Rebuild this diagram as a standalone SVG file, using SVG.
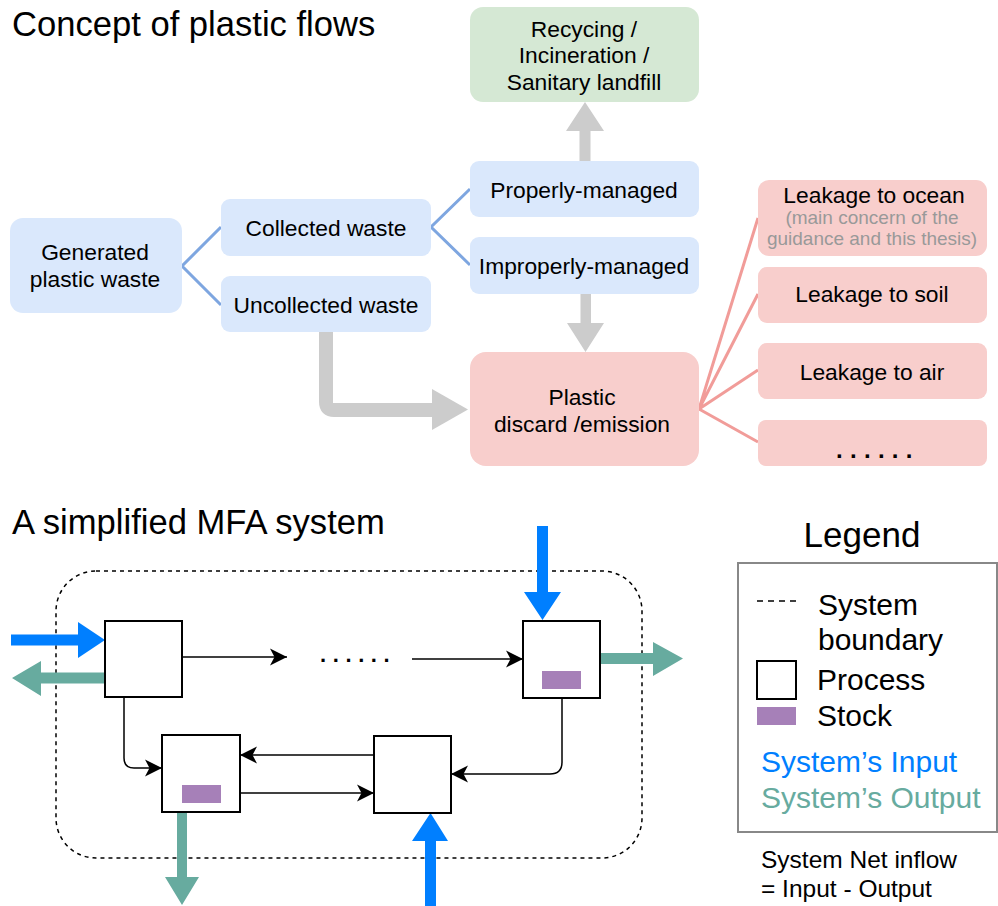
<svg xmlns="http://www.w3.org/2000/svg" width="998" height="906" viewBox="0 0 998 906">
<style>
text{font-family:"Liberation Sans",Arial,Helvetica,sans-serif;fill:#000}
.title{font-size:34.6px}
.lbl{font-size:22.8px;text-anchor:middle}
.sub{font-size:19px;text-anchor:middle;fill:#999999}
.blue{fill:#dae8fc}
.green{fill:#d5e8d4}
.pink{fill:#f8cecc}
.bl{stroke:#7ea6e0;stroke-width:3;fill:none}
.pl{stroke:#f19c99;stroke-width:3;fill:none}
.gray{fill:#cccccc}
.proc{fill:#fff;stroke:#000;stroke-width:2}
.stock{fill:#a680b8}
.conn{stroke:#000;stroke-width:1.5;fill:none}
.in{fill:#007fff}
.out{fill:#67ab9f}
.leg{font-size:30px}
</style>
<defs>
<marker id="ah" viewBox="0 0 18 18" refX="17.5" refY="9" markerWidth="18" markerHeight="18" markerUnits="userSpaceOnUse" orient="auto">
<path d="M0.5,0.5 L17.5,9 L0.5,17.5 L5,9 Z" fill="#000"/>
</marker>
</defs>
<rect width="998" height="906" fill="#fff"/>

<text class="title" x="12" y="36">Concept of plastic flows</text>
<text class="title" x="12" y="534">A simplified MFA system</text>

<!-- top connectors -->
<g id="connectors-top">
<path class="bl" d="M221,227 L182,266 L221,305"/>
<path class="bl" d="M470,189 L431,227 L470,265"/>
<path class="pl" d="M758,218 L699,409 L758,294 M699,409 L758,370 M699,409 L758,442"/>
<path class="gray" d="M579.5,161 L579.5,131 L566,131 L585,102 L604,131 L590.5,131 L590.5,161 Z"/>
<path class="gray" d="M580.5,294 L580.5,323 L567,323 L585.5,352 L604,323 L591,323 L591,294 Z"/>
<path d="M326,332 L326,402 Q326,410 334,410 L433,410" stroke="#cccccc" stroke-width="14" fill="none"/>
<path class="gray" d="M432,389 L468,409.5 L432,430 Z"/>
</g>

<g id="n-generated"><rect class="blue" x="10" y="218" width="172" height="95" rx="13"/>
<text class="lbl" x="95" y="260">Generated</text><text class="lbl" x="95" y="287">plastic waste</text></g>
<g id="n-collected"><rect class="blue" x="221" y="199" width="210" height="57" rx="9"/>
<text class="lbl" x="326" y="236">Collected waste</text></g>
<g id="n-uncollected"><rect class="blue" x="221" y="276" width="210" height="56" rx="9"/>
<text class="lbl" x="326" y="313">Uncollected waste</text></g>
<g id="n-recycling"><rect class="green" x="470" y="7" width="229" height="95" rx="13"/>
<text class="lbl" x="584" y="37">Recycing /</text><text class="lbl" x="584" y="63">Incineration /</text><text class="lbl" x="584" y="90">Sanitary landfill</text></g>
<g id="n-proper"><rect class="blue" x="470" y="161" width="229" height="56" rx="9"/>
<text class="lbl" x="584" y="198">Properly-managed</text></g>
<g id="n-improper"><rect class="blue" x="470" y="237" width="229" height="57" rx="9"/>
<text class="lbl" x="584" y="274">Improperly-managed</text></g>
<g id="n-discard"><rect class="pink" x="470" y="352" width="229" height="114" rx="16"/>
<text class="lbl" x="582" y="405">Plastic</text><text class="lbl" x="582" y="432">discard /emission</text></g>
<g id="n-ocean"><rect class="pink" x="758" y="180" width="229" height="76" rx="11"/>
<text class="lbl" x="874" y="203">Leakage to ocean</text>
<text class="sub" x="872" y="224">(main concern of the</text>
<text class="sub" x="872" y="245">guidance and this thesis)</text></g>
<g id="n-soil"><rect class="pink" x="758" y="267" width="229" height="56" rx="9"/>
<text class="lbl" x="872" y="302">Leakage to soil</text></g>
<g id="n-air"><rect class="pink" x="758" y="343" width="229" height="56" rx="9"/>
<text class="lbl" x="872" y="380">Leakage to air</text></g>
<g id="n-more"><rect class="pink" x="758" y="420" width="229" height="46" rx="8"/>
<text x="836" y="458" style="font-size:24px;letter-spacing:7.3px;font-weight:bold">......</text></g>

<!-- MFA -->
<g id="boundary"><rect x="56" y="571" width="586" height="287" rx="40" fill="none" stroke="#000" stroke-width="1.5" stroke-dasharray="4 4"/></g>

<g id="connectors-mfa">
<path class="conn" d="M182,657 L287,657" marker-end="url(#ah)"/>
<path class="conn" d="M412,659 L523,659" marker-end="url(#ah)"/>
<path class="conn" d="M124,697 L124,758 Q124,768 134,768 L162,768" marker-end="url(#ah)"/>
<path class="conn" d="M374,755 L240,755" marker-end="url(#ah)"/>
<path class="conn" d="M240,793 L374,793" marker-end="url(#ah)"/>
<path class="conn" d="M562,698 L562,762 Q562,774 550,774 L451,774" marker-end="url(#ah)"/>
<text x="320" y="662" style="font-size:22px;letter-spacing:6.6px;font-weight:bold">......</text>
<path class="in" d="M11,634.5 L78,634.5 L78,622 L105,640 L78,658 L78,645.5 L11,645.5 Z"/>
<path class="out" d="M105,672.5 L41,672.5 L41,661 L12,678 L41,696 L41,683.5 L105,683.5 Z"/>
<path class="in" d="M537,526 L548,526 L548,592 L561,592 L542.5,620 L524,592 L537,592 Z"/>
<path class="out" d="M600,653 L653,653 L653,642 L683,658.5 L653,676 L653,664 L600,664 Z"/>
<path class="out" d="M177,812 L187,812 L187,877 L199,877 L182,905 L165,877 L177,877 Z"/>
<path class="in" d="M425,906 L425,841 L412,841 L430.5,813 L448,841 L436,841 L436,906 Z"/>
</g>

<g id="p1"><rect class="proc" x="105" y="621" width="77" height="76"/></g>
<g id="p2"><rect class="proc" x="523" y="621" width="77" height="77"/><rect class="stock" x="542" y="671" width="39" height="18"/></g>
<g id="p3"><rect class="proc" x="162" y="735" width="78" height="77"/><rect class="stock" x="182" y="785" width="39" height="18"/></g>
<g id="p4"><rect class="proc" x="374" y="736" width="77" height="77"/></g>

<!-- Legend -->
<g id="legend">
<text x="862" y="547" style="font-size:35px;text-anchor:middle">Legend</text>
<rect x="738" y="563" width="259" height="269" fill="none" stroke="#888888" stroke-width="2"/>
<line x1="757" y1="601" x2="796" y2="601" stroke="#000" stroke-width="1.5" stroke-dasharray="6 5"/>
<text class="leg" x="818" y="615">System</text>
<text class="leg" x="818" y="650">boundary</text>
<rect x="757" y="661" width="39" height="38" fill="#fff" stroke="#000" stroke-width="2"/>
<text class="leg" x="817" y="690">Process</text>
<rect class="stock" x="757" y="707" width="39" height="18"/>
<text class="leg" x="817" y="726">Stock</text>
<text class="leg" x="761" y="772" style="fill:#007fff">System’s Input</text>
<text class="leg" x="761" y="808" style="fill:#67ab9f">System’s Output</text>
<text x="761" y="868" style="font-size:24.5px">System Net inflow</text>
<text x="761" y="897" style="font-size:24.5px">= Input - Output</text>
</g>
</svg>
